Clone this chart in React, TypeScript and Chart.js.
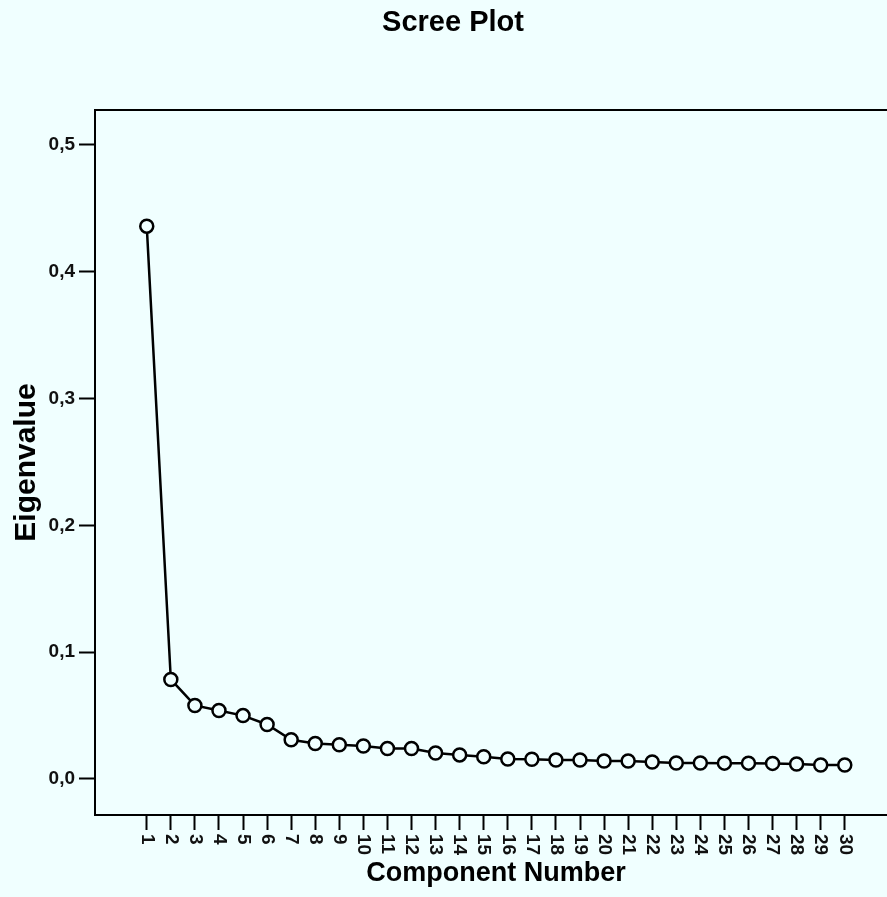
import React, { useEffect, useRef } from "react";
import { Chart, registerables } from "chart.js";

Chart.register(...registerables);

const components = [1,2,3,4,5,6,7,8,9,10,11,12,13,14,15,16,17,18,19,20,21,22,23,24,25,26,27,28,29,30];
const eigenvalues = [0.436,0.0785,0.058,0.054,0.050,0.043,0.031,0.028,0.027,0.026,0.024,0.024,0.0205,0.019,0.0175,0.0157,0.0155,0.015,0.015,0.0142,0.0142,0.0134,0.0126,0.0126,0.0125,0.0125,0.0123,0.0118,0.011,0.011];
const yTicks = [0, 0.1, 0.2, 0.3, 0.4, 0.5];
const yTickLabels = ["0,0", "0,1", "0,2", "0,3", "0,4", "0,5"];
const xTickLabels = components.map((c) => String(c));

const BG = "#f0ffff";
const FONT = "'Liberation Sans', Arial, sans-serif";

export default function App() {
  const ref = useRef<HTMLCanvasElement>(null);
  useEffect(() => {
    document.body.style.margin = "0";
    document.body.style.background = BG;
    const canvas = ref.current!;
    const bgPlugin = {
      id: "bg",
      beforeDraw(chart: any) {
        const ctx = chart.ctx;
        ctx.save();
        ctx.fillStyle = BG;
        ctx.fillRect(0, 0, chart.width, chart.height);
        ctx.restore();
      },
      afterDraw(chart: any) {
        const ctx = chart.ctx;
        const a = chart.chartArea;
        const xs = chart.scales.x;
        ctx.save();
        ctx.strokeStyle = "#000";
        ctx.lineWidth = 2;
        ctx.beginPath();
        ctx.moveTo(a.left, a.top);
        ctx.lineTo(chart.width, a.top);
        ctx.stroke();
        ctx.fillStyle = "#111";
        ctx.font = `bold 19px ${FONT}`;
        ctx.textAlign = "left";
        ctx.textBaseline = "middle";
        components.forEach((c, i) => {
          const x = xs.getPixelForValue(c);
          ctx.save();
          ctx.translate(x, a.bottom + 19);
          ctx.rotate(Math.PI / 2);
          ctx.fillText(xTickLabels[i], 0, 0);
          ctx.restore();
        });
        ctx.restore();
      },
    };
    const chart = new Chart(canvas, {
      type: "scatter",
      data: {
        datasets: [
          {
            data: components.map((c, i) => ({ x: c, y: eigenvalues[i] })),
            showLine: true,
            borderColor: "#000",
            borderWidth: 2.5,
            pointRadius: 6.5,
            pointBorderWidth: 2.5,
            pointBackgroundColor: BG,
            pointBorderColor: "#000",
          },
        ],
      },
      options: {
        animation: false,
        responsive: false,
        layout: { padding: 0 },
        plugins: {
          legend: { display: false },
          tooltip: { enabled: false },
          title: {
            display: true,
            text: "Scree Plot",
            color: "#000",
            font: { family: FONT, size: 29, weight: "bold" },
            padding: { top: 5.6, bottom: 69.6 },
          },
        },
        scales: {
          x: {
            type: "linear",
            min: -1.15,
            max: 32.17,
            afterBuildTicks: (s: any) => {
              s.ticks = components.map((v) => ({ value: v }));
            },
            afterFit: (s: any) => {
              s.height = 82;
            },
            ticks: { display: false },
            grid: {
              drawOnChartArea: false,
              drawTicks: true,
              tickLength: 15,
              tickWidth: 2,
              tickColor: "#000",
            },
            border: { display: true, color: "#000", width: 2 },
            title: {
              display: true,
              text: "Component Number",
              color: "#000",
              font: { family: FONT, size: 27, weight: "bold" },
              padding: { top: 0, bottom: 6.8 },
            },
          },
          y: {
            type: "linear",
            min: -0.0284,
            max: 0.5276,
            afterBuildTicks: (s: any) => {
              s.ticks = yTicks.map((v) => ({ value: v }));
            },
            afterFit: (s: any) => {
              s.width = 95;
            },
            ticks: {
              color: "#111",
              padding: 4,
              font: { family: FONT, size: 19, weight: "bold" },
              callback: (_v: any, i: number) => yTickLabels[i],
            },
            grid: {
              drawOnChartArea: false,
              drawTicks: true,
              tickLength: 16,
              tickWidth: 2,
              tickColor: "#000",
            },
            border: { display: true, color: "#000", width: 2 },
            title: {
              display: true,
              text: "Eigenvalue",
              color: "#000",
              font: { family: FONT, size: 30, weight: "bold" },
              padding: { top: 9, bottom: 0 },
            },
          },
        },
      },
      plugins: [bgPlugin],
    } as any);
    return () => chart.destroy();
  }, []);
  return (
    <div style={{ width: 887, height: 897, overflow: "hidden", background: BG }}>
      <canvas ref={ref} width={906} height={897} style={{ display: "block", width: 906, height: 897 }} />
    </div>
  );
}
